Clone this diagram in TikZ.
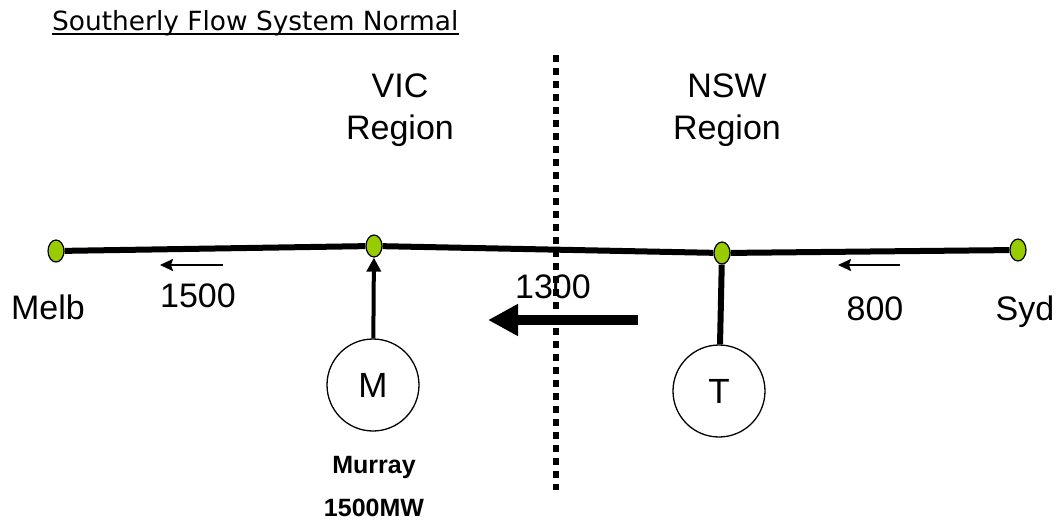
\documentclass[tikz,border=0pt]{standalone}
\usepackage{fontspec}
\setmainfont{Liberation Sans}
\newfontfamily\titlefont{DejaVu Sans}
\usetikzlibrary{shapes.geometric, arrows, arrows.meta}
\definecolor{busgreen}{RGB}{153,204,0}
\tikzstyle{bus} = [ellipse, 
draw=black, 
fill=busgreen, 
line width=1.2pt, 
minimum width=16pt, 
minimum height=22pt, 
inner sep=0pt]
\tikzstyle{gen} = [circle, draw=black, line width=1.3pt, minimum size=92pt, inner sep=0pt, font=\fontsize{35}{40}\selectfont]
\tikzstyle{txt} = [anchor=base, inner sep=0pt, font=\fontsize{34}{39}\selectfont]
\tikzstyle{boldtxt} = [anchor=base, inner sep=0pt, font=\fontsize{25}{29}\selectfont\bfseries]
\tikzstyle{feeder} = [line width=6pt]
\tikzstyle{flow} = [line width=2pt,-{Stealth[length=13pt,width=12pt,inset=2pt]}]
\tikzstyle{bigflow} = [line width=10pt,-{Triangle[length=30pt,width=30pt]}]
\tikzstyle{divider} = [line width=6pt, dash pattern=on 7pt off 6pt]

\begin{document}
\begin{tikzpicture}[x=1pt,y=-1pt]
        \useasboundingbox (0,0) rectangle (1058,522);
        \node (title) [anchor=base west, inner sep=0pt, font=\titlefont\fontsize{26.4}{30}\selectfont] at (52,30) {Southerly Flow System Normal};
        \draw [line width=1.6pt] ([yshift=-4pt]title.base west) -- ([yshift=-4pt]title.base east);
        \node (vic) [txt] at (400,97) {VIC};
        \node (vicreg) [txt] at (400,139) {Region};
        \node (nsw) [txt] at (727,97) {NSW};
        \node (nswreg) [txt] at (727,139) {Region};
        \coordinate (divtop) at (556,55);
        \coordinate (divbot) at (556,490);
        \draw [divider] (divtop) -- (divbot);
        \node (melb) [bus] at (56,251) {};
        \node (murraybus) [bus] at (374,246) {};
        \node (tbus) [bus] at (722,253) {};
        \node (syd) [bus] at (1018,250) {};
        \draw [feeder] (melb) -- (murraybus) -- (tbus) -- (syd);
        \node (melblbl) [txt] at (48,319) {Melb};
        \node (sydlbl) [txt] at (1025,320) {Syd};
        \node (mgen) [gen] at (373,385) {M};
        \node (tgen) [gen] at (719,391) {T};
        \draw [line width=4pt,-{Triangle[length=14pt,width=14pt]}] (mgen) -- (murraybus);
        \draw [feeder] (tbus) -- (tgen);
        \node (murray) [boldtxt] at (374,473) {Murray};
        \node (murraymw) [boldtxt] at (374,516) {1500MW};
        \coordinate (vflows) at (223,265);
        \coordinate (vflowe) at (160,265);
        \draw [flow] (vflows) -- (vflowe);
        \node (vflowlbl) [txt] at (198,307) {1500};
        \coordinate (nflows) at (900,265);
        \coordinate (nflowe) at (838,265);
        \draw [flow] (nflows) -- (nflowe);
        \node (nflowlbl) [txt] at (875,320) {800};
        \coordinate (ics) at (638,320);
        \coordinate (ice) at (488,320);
        \draw [bigflow] (ics) -- (ice);
        \node (iclbl) [txt] at (553,298) {1300};
    \end{tikzpicture}
\end{document}
